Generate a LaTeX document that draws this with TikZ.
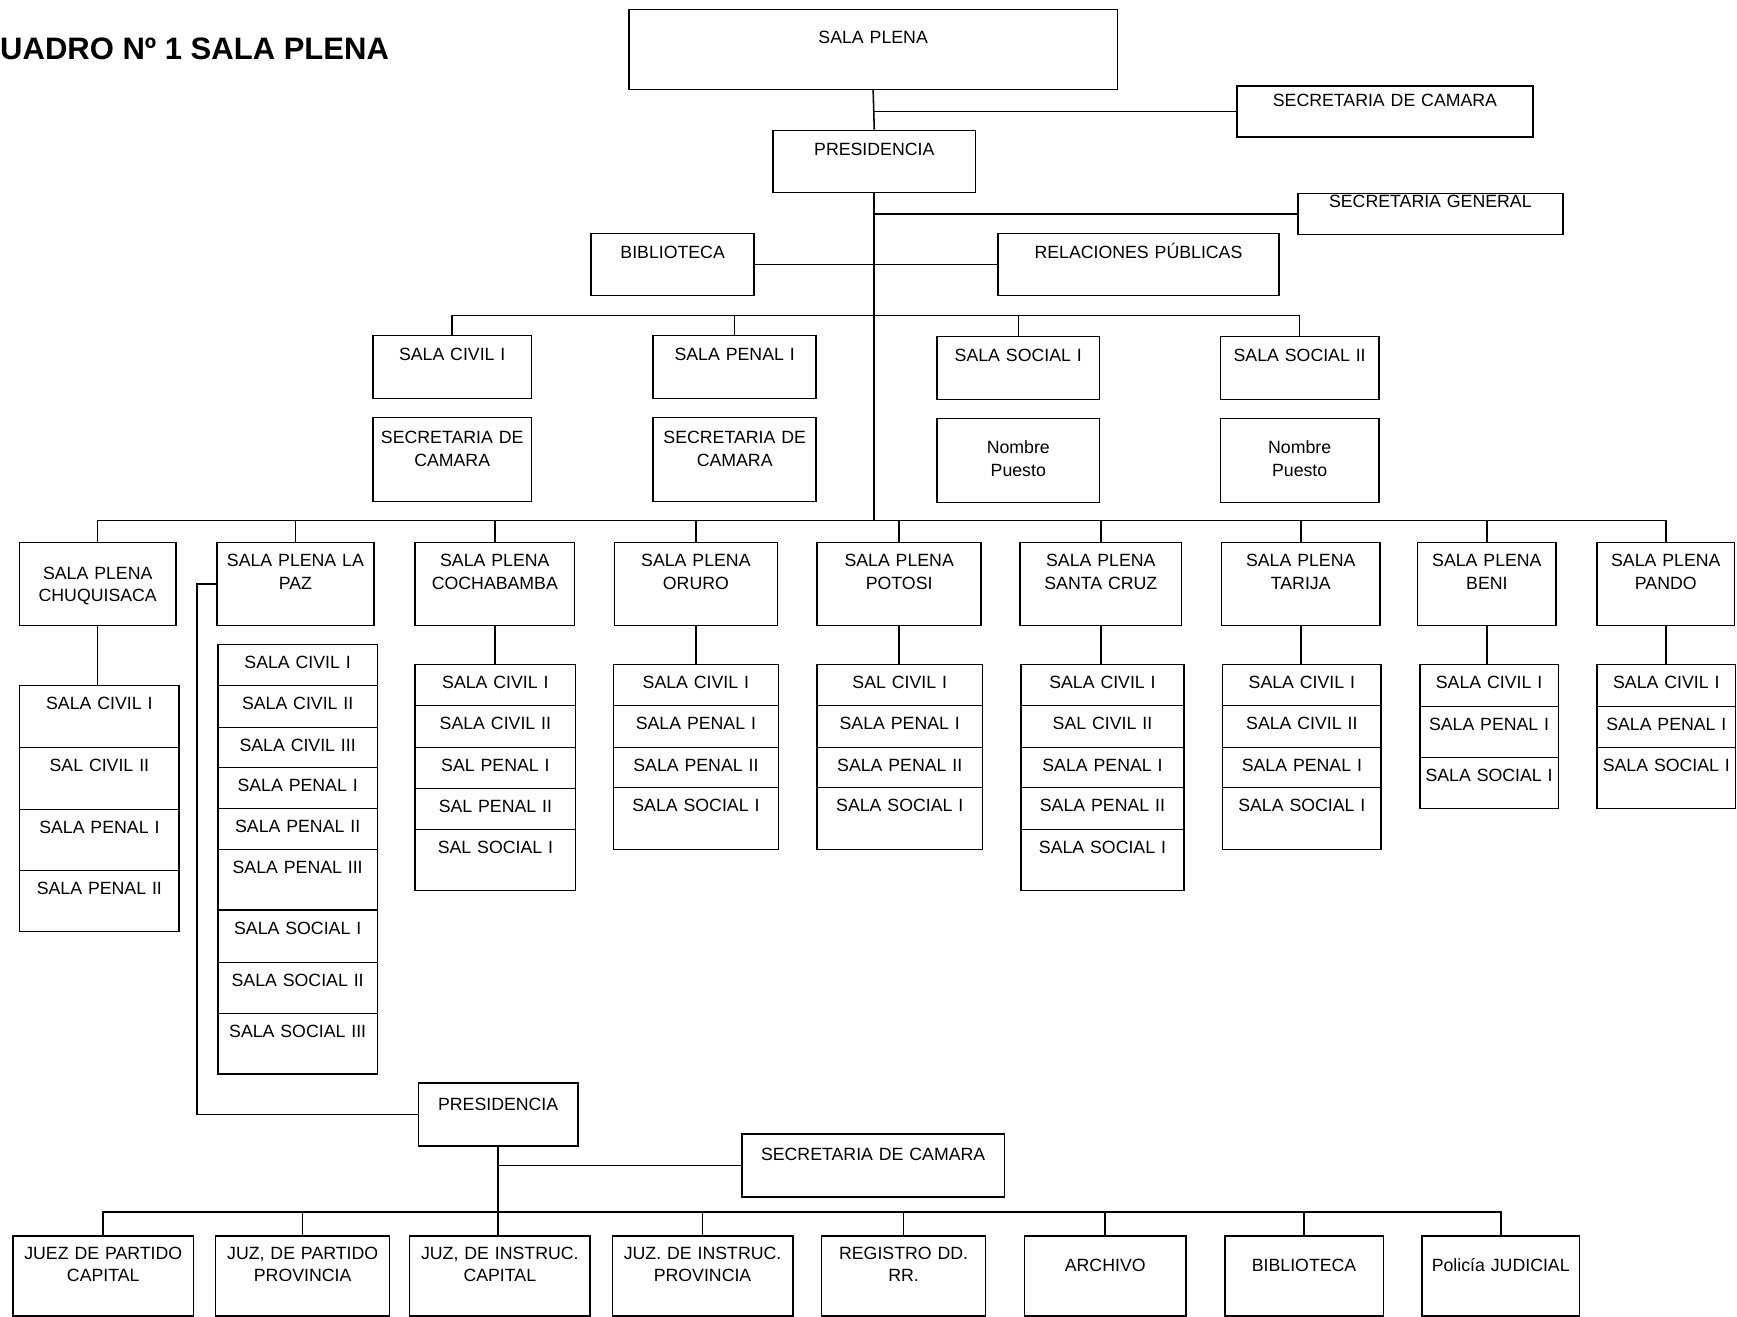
\documentclass[tikz,border=0pt]{standalone}
\usepackage{fontspec}
\setmainfont{Liberation Sans}
\newcommand\boxfont{\fontsize{16}{20}\selectfont}
\newcommand\titlefont{\fontsize{28}{32}\selectfont\bfseries}
\tikzset{
  box/.style={draw, line width=1.4pt, anchor=north west, inner sep=0pt, align=center, font=\boxfont},
  wh/.style n args={3}{text width=#1pt, text height=#2pt, text depth=#3pt},
  link/.style={line width=1.4pt},
}
\begin{document}
\begin{tikzpicture}[x=1pt, y=-1pt]
\useasboundingbox (0,0) rectangle (1568,1188);
\node[anchor=base west, inner sep=0pt, font=\titlefont] (title) at (0,54) {UADRO Nº 1 SALA PLENA};

% cabeza
\node[box, wh={441}{31}{41}] (sp) at (567,8) {SALA PLENA};
\node[box, wh={267}{18}{28}] (seccam) at (1116,77) {SECRETARIA DE CAMARA};
\node[box, wh={183}{23}{33}] (pres) at (697,117) {PRESIDENCIA};
\node[box, wh={239}{13}{24}] (secgen) at (1171,174) {SECRETARIA GENERAL};
\node[box, wh={147}{23}{33}] (bib) at (533,210) {BIBLIOTECA};
\node[box, wh={254}{23}{33}] (relp) at (900,210) {RELACIONES PÚBLICAS};
\coordinate (busB) at (788,285);
\coordinate (busA) at (788,470);

% salas
\node[box, wh={143}{23}{34}] (sc1) at (336,302) {SALA CIVIL I};
\node[box, wh={147}{23}{34}] (spn1) at (589,302) {SALA PENAL I};
\node[box, wh={147}{23}{34}] (ss1) at (845,303) {SALA SOCIAL I};
\node[box, wh={143}{23}{34}] (ss2) at (1101,303) {SALA SOCIAL II};
\node[box, wh={143}{24}{52}] (scc1) at (336,376) {SECRETARIA DE\\CAMARA};
\node[box, wh={147}{24}{52}] (scc2) at (589,376) {SECRETARIA DE\\CAMARA};
\node[box, wh={147}{32}{44}] (np1) at (845,377) {Nombre\\Puesto};
\node[box, wh={143}{32}{44}] (np2) at (1101,377) {Nombre\\Puesto};

% salas plenas
\node[box, wh={141}{33}{42}] (chq) at (17,489) {SALA PLENA\\CHUQUISACA};
\node[box, wh={142}{22}{53}] (lpz) at (195,489) {SALA PLENA LA\\PAZ};
\node[box, wh={144}{22}{53}] (cbba) at (374,489) {SALA PLENA\\COCHABAMBA};
\node[box, wh={147}{22}{53}] (oru) at (554,489) {SALA PLENA\\ORURO};
\node[box, wh={148}{22}{53}] (pts) at (737,489) {SALA PLENA\\POTOSI};
\node[box, wh={146}{22}{53}] (scz) at (920,489) {SALA PLENA\\SANTA CRUZ};
\node[box, wh={143}{22}{53}] (tja) at (1102,489) {SALA PLENA\\TARIJA};
\node[box, wh={125}{22}{53}] (ben) at (1279,489) {SALA PLENA\\BENI};
\node[box, wh={124}{22}{53}] (pan) at (1441,489) {SALA PLENA\\PANDO};

% salas de cada distrito
\foreach \ya/\yb/\lbl [count=\i] in {618/674/SALA CIVIL I, 674/730/SAL CIVIL II, 730/785/SALA PENAL I, 785/840/SALA PENAL II}{
  \pgfmathsetmacro\dd{\yb-\ya-22}
  \node[box, wh={144}{22}{\dd}] (chq\i) at (17,\ya) {\lbl};
}
\foreach \ya/\yb/\lbl [count=\i] in {581/618/SALA CIVIL I, 618/656/SALA CIVIL II, 656/692/SALA CIVIL III, 692/729/SALA PENAL I, 729/766/SALA PENAL II, 766/821/SALA PENAL III, 821/868/SALA SOCIAL I, 868/914/SALA SOCIAL II, 914/969/SALA SOCIAL III}{
  \pgfmathsetmacro\dd{\yb-\ya-22}
  \node[box, wh={144}{22}{\dd}] (lpz\i) at (196,\ya) {\lbl};
}
\foreach \ya/\yb/\lbl [count=\i] in {599/636/SALA CIVIL I, 636/674/SALA CIVIL II, 674/711/SAL PENAL I, 711/748/SAL PENAL II, 748/803/SAL SOCIAL I}{
  \pgfmathsetmacro\dd{\yb-\ya-22}
  \node[box, wh={145}{22}{\dd}] (cbba\i) at (374,\ya) {\lbl};
}
\foreach \ya/\yb/\lbl [count=\i] in {599/636/SALA CIVIL I, 636/674/SALA PENAL I, 674/710/SALA PENAL II, 710/766/SALA SOCIAL I}{
  \pgfmathsetmacro\dd{\yb-\ya-22}
  \node[box, wh={149}{22}{\dd}] (oru\i) at (553,\ya) {\lbl};
}
\foreach \ya/\yb/\lbl [count=\i] in {599/636/SAL CIVIL I, 636/674/SALA PENAL I, 674/710/SALA PENAL II, 710/766/SALA SOCIAL I}{
  \pgfmathsetmacro\dd{\yb-\ya-22}
  \node[box, wh={149}{22}{\dd}] (pts\i) at (737,\ya) {\lbl};
}
\foreach \ya/\yb/\lbl [count=\i] in {599/636/SALA CIVIL I, 636/674/SAL CIVIL II, 674/710/SALA PENAL I, 710/748/SALA PENAL II, 748/803/SALA SOCIAL I}{
  \pgfmathsetmacro\dd{\yb-\ya-22}
  \node[box, wh={147}{22}{\dd}] (scz\i) at (921,\ya) {\lbl};
}
\foreach \ya/\yb/\lbl [count=\i] in {599/636/SALA CIVIL I, 636/674/SALA CIVIL II, 674/710/SALA PENAL I, 710/766/SALA SOCIAL I}{
  \pgfmathsetmacro\dd{\yb-\ya-22}
  \node[box, wh={143}{22}{\dd}] (tja\i) at (1103,\ya) {\lbl};
}
\foreach \ya/\yb/\lbl [count=\i] in {599/637/SALA CIVIL I, 637/683/SALA PENAL I, 683/729/SALA SOCIAL I}{
  \pgfmathsetmacro\dd{\yb-\ya-22}
  \node[box, wh={125}{22}{\dd}] (ben\i) at (1281,\ya) {\lbl};
}
\foreach \ya/\yb/\lbl [count=\i] in {599/637/SALA CIVIL I, 637/674/SALA PENAL I, 674/729/SALA SOCIAL I}{
  \pgfmathsetmacro\dd{\yb-\ya-22}
  \node[box, wh={125}{22}{\dd}] (pan\i) at (1441,\ya) {\lbl};
}

% presidencia de distrito
\node[box, wh={144}{25}{32}] (pres2) at (377,977) {PRESIDENCIA};
\node[box, wh={237}{24}{33}] (sec2) at (669,1023) {SECRETARIA DE CAMARA};
\coordinate (busC) at (449,1094);
\coordinate (lpzbend) at (178,526);
\node[box, wh={163}{21}{51}] (jpc) at (11,1115) {JUEZ DE PARTIDO\\CAPITAL};
\node[box, wh={157}{21}{51}] (jpp) at (194,1115) {JUZ, DE PARTIDO\\PROVINCIA};
\node[box, wh={163}{21}{51}] (jic) at (369,1115) {JUZ, DE INSTRUC.\\CAPITAL};
\node[box, wh={163}{21}{51}] (jip) at (552,1115) {JUZ. DE INSTRUC.\\PROVINCIA};
\node[box, wh={148}{21}{51}] (reg) at (741,1115) {REGISTRO DD.\\RR.};
\node[box, wh={146}{32}{40}] (arc) at (924,1115) {ARCHIVO};
\node[box, wh={143}{32}{40}] (bib2) at (1105,1115) {BIBLIOTECA};
\node[box, wh={142}{32}{40}] (pol) at (1283,1115) {Policía JUDICIAL};

% lineas
\draw[link] (sp.south) -- (pres.north);
\draw[link] (sp.south |- seccam.west) -- (seccam.west);
\draw[link] (pres.south) -- (pres.south |- busA);
\draw[link] (pres.south |- secgen.west) -- (secgen.west);
\draw[link] (bib.east) -- (relp.west);
\draw[link] (sc1.north) |- (busB) -| (ss2.north);
\foreach \n in {spn1,ss1} \draw[link] (\n.north) -- (\n.north |- busB);
\draw[link] (chq.north) |- (busA) -| (pan.north);
\foreach \n in {lpz,cbba,oru,pts,scz,tja,ben} \draw[link] (\n.north) -- (\n.north |- busA);
\foreach \n in {chq,cbba,oru,pts,scz,tja,ben,pan} \draw[link] (\n.south) -- (\n.south |- \n1.north);
\draw[link] (lpz.west) -| (lpzbend |- pres2.west) -- (pres2.west);
\draw[link] (pres2.south |- sec2.west) -- (sec2.west);
\draw[link] (pres2.south) -- (pres2.south |- jic.north);
\draw[link] (jpc.north) |- (busC) -| (pol.north);
\foreach \n in {jpp,jip,reg,arc,bib2} \draw[link] (\n.north) -- (\n.north |- busC);
\end{tikzpicture}
\end{document}
